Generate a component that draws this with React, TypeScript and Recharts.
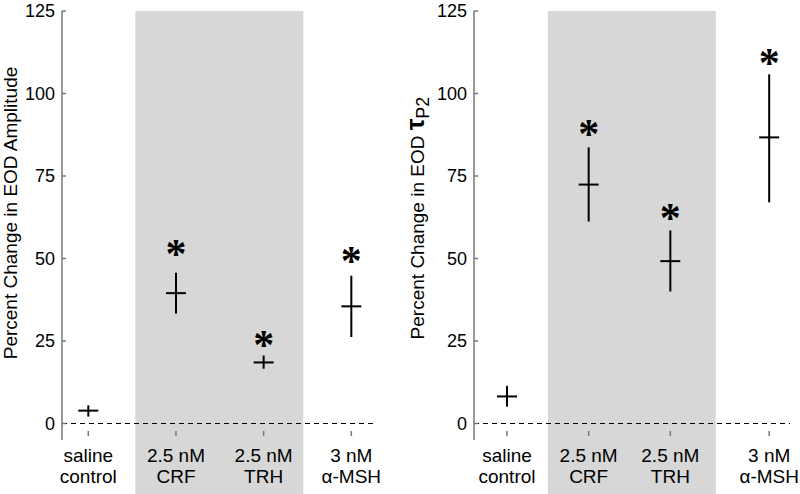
import React from "react";
import {
  ComposedChart,
  Scatter,
  ErrorBar,
  XAxis,
  YAxis,
  ReferenceArea,
  ReferenceLine,
} from "recharts";

const CATEGORIES: string[][] = [
  ["saline", "control"],
  ["2.5 nM", "CRF"],
  ["2.5 nM", "TRH"],
  ["3 nM", "α-MSH"],
];
const Y_TICKS = [0, 25, 50, 75, 100, 125];

// left panel: EOD amplitude
const AMP_MEAN = [3.9, 39.5, 18.5, 35.5];
const AMP_LOW = [2.1, 33.3, 16.6, 26.2];
const AMP_HIGH = [5.5, 45.7, 20.6, 44.8];
const AMP_STAR: (number | null)[] = [null, 53.5, 25.8, 51.5];
const AMP_X = [1, 2, 3, 4];

// right panel: EOD tau P2
const TAU_MEAN = [8.2, 72.4, 49.2, 86.7];
const TAU_LOW = [5.1, 61.2, 40.0, 67.0];
const TAU_HIGH = [11.4, 83.7, 58.5, 105.8];
const TAU_STAR: (number | null)[] = [null, 89.8, 64.5, 111.5];
const TAU_X = [1, 2, 3, 4.21];

const FONT = "'Liberation Sans', Arial, sans-serif";
const AXIS_GRAY = "#777";

function buildRows(
  xs: number[],
  mean: number[],
  low: number[],
  high: number[],
  star: (number | null)[]
) {
  return xs.map((x, i) => ({
    x,
    mean: mean[i],
    err: [mean[i] - low[i], high[i] - mean[i]],
    star: star[i],
  }));
}

const YTick = ({ x, y, payload }: any) => (
  <g>
    <line x1={x} x2={x + 4} y1={y} y2={y} stroke={AXIS_GRAY} strokeWidth={1.5} />
    <text
      x={x - 7}
      y={y}
      dy="0.36em"
      textAnchor="end"
      fontFamily={FONT}
      fontSize={18}
      fill="#000"
    >
      {payload.value}
    </text>
  </g>
);

const CatTick = ({ x, y, payload, positions }: any) => {
  const idx = positions.indexOf(payload.value);
  const lines = CATEGORIES[idx] || ["", ""];
  return (
    <g>
      <line x1={x} x2={x} y1={y - 9} y2={y - 4} stroke={AXIS_GRAY} strokeWidth={1.5} />
      <text textAnchor="middle" fontFamily={FONT} fontSize={19} fill="#000">
        <tspan x={x} y={y + 22}>
          {lines[0]}
        </tspan>
        <tspan x={x} y={y + 43}>
          {lines[1]}
        </tspan>
      </text>
    </g>
  );
};

const Cross = ({ cx, cy }: any) => (
  <line x1={cx - 10} x2={cx + 10} y1={cy} y2={cy} stroke="#000" strokeWidth={2} />
);

const Star = ({ cx, cy }: any) => (
  <text
    x={cx}
    y={cy}
    dy={21}
    textAnchor="middle"
    fontFamily="'Liberation Serif', 'Times New Roman', serif"
    fontWeight="bold"
    fontSize={42}
    fill="#000"
  >
    *
  </text>
);

interface PanelProps {
  xs: number[];
  mean: number[];
  low: number[];
  high: number[];
  star: (number | null)[];
  xDomain: [number, number];
  band: [number, number];
  margin: { top: number; right: number; bottom: number; left: number };
  label: React.ReactNode;
  labelX: number;
  labelY: number;
}

function Panel({ xs, mean, low, high, star, xDomain, band, margin, label, labelX, labelY }: PanelProps) {
  const rows = buildRows(xs, mean, low, high, star);
  const starRows = rows.filter((r) => r.star != null);

  return (
    <ComposedChart width={400} height={494} margin={margin}>
      <ReferenceArea
        x1={band[0]}
        x2={band[1]}
        y1={-21.5}
        y2={125}
        fill="#d7d7d7"
        fillOpacity={1}
        stroke="none"
        ifOverflow="visible"
      />
      <ReferenceLine y={0} stroke="#000" strokeWidth={1} strokeDasharray="5 4" />
      <XAxis
        type="number"
        dataKey="x"
        domain={xDomain}
        ticks={xs}
        allowDataOverflow
        axisLine={false}
        tickLine={false}
        tickSize={0}
        tickMargin={0}
        height={54}
        interval={0}
        tick={(p: any) => <CatTick {...p} positions={xs} />}
      />
      <YAxis
        type="number"
        domain={[-5, 125]}
        ticks={Y_TICKS}
        allowDataOverflow
        width={60}
        axisLine={{ stroke: AXIS_GRAY, strokeWidth: 1.5 }}
        tickLine={false}
        tickSize={0}
        tickMargin={0}
        interval={0}
        tick={YTick}
        label={{
          content: () => (
            <text
              x={labelX}
              y={labelY}
              transform={`rotate(-90 ${labelX} ${labelY})`}
              textAnchor="middle"
              fontFamily={FONT}
              fontSize={19}
              fill="#000"
            >
              {label}
            </text>
          ),
        }}
      />
      <Scatter data={rows} dataKey="mean" shape={Cross} isAnimationActive={false}>
        <ErrorBar
          dataKey="err"
          direction="y"
          width={0}
          stroke="#000"
          strokeWidth={2}
          isAnimationActive={false}
        />
      </Scatter>
      <Scatter data={starRows} dataKey="star" shape={Star} isAnimationActive={false} />
    </ComposedChart>
  );
}

export default function App() {
  return (
    <div
      style={{
        position: "absolute",
        left: 0,
        top: 0,
        width: 800,
        height: 494,
        display: "flex",
        background: "#fff",
      }}
    >
      <Panel
        xs={AMP_X}
        mean={AMP_MEAN}
        low={AMP_LOW}
        high={AMP_HIGH}
        star={AMP_STAR}
        xDomain={[0.7, 4.27]}
        band={[1.536, 3.452]}
        margin={{ top: 11, right: 25, bottom: 0, left: 2 }}
        label="Percent Change in EOD Amplitude"
        labelX={17}
        labelY={213}
      />
      <Panel
        xs={TAU_X}
        mean={TAU_MEAN}
        low={TAU_LOW}
        high={TAU_HIGH}
        star={TAU_STAR}
        xDomain={[0.596, 4.465]}
        band={[1.5, 3.556]}
        margin={{ top: 11, right: 10, bottom: 0, left: 14 }}
        label={
          <>
            <tspan>Percent Change in EOD </tspan>
            <tspan fontSize={26} fontWeight="bold">
              τ
            </tspan>
            <tspan fontSize={18} dy={5}>
              P2
            </tspan>
          </>
        }
        labelX={24}
        labelY={218}
      />
    </div>
  );
}
